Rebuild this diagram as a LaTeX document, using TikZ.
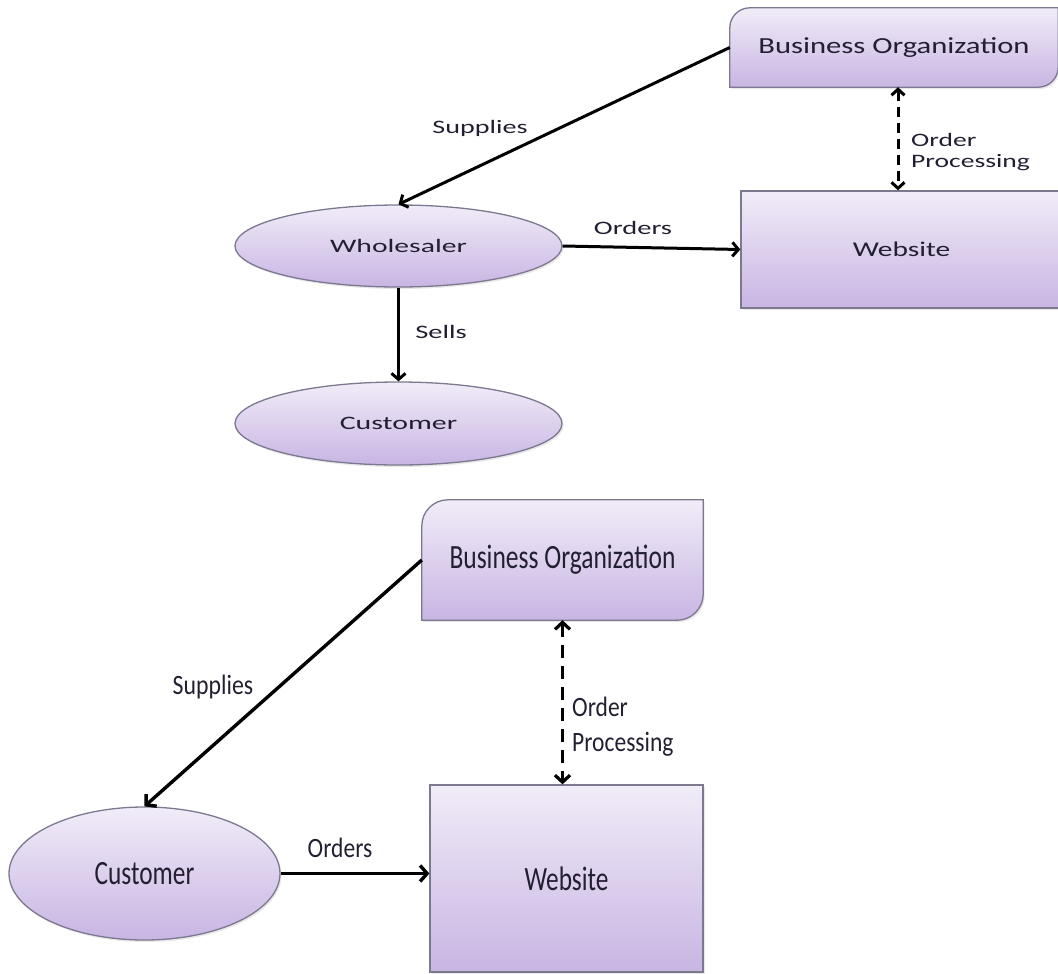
\documentclass[tikz,border=0pt]{standalone}
\usepackage{fontspec}
\setmainfont{Carlito}
\usetikzlibrary{shapes.geometric,arrows.meta,calc,backgrounds,shadows}
\definecolor{ftop}{HTML}{F1ECF8}
\definecolor{fbot}{HTML}{C8B5E3}
\definecolor{edgec}{HTML}{7C7890}
\definecolor{txt}{HTML}{231F33}
\newcommand\T[3]{\scalebox{#2}[1]{\fontsize{#1}{#1}\selectfont #3}}
\newcommand\TT[5]{\scalebox{#2}[1]{\fontsize{#1}{#3}\selectfont\begin{tabular}{@{}l@{}}#4\\#5\end{tabular}}}
\newcommand\boshape[2]{%
  \path[top color=ftop,bottom color=fbot,draw=edgec,line width=1.3pt,
        drop shadow={opacity=0.18,shadow xshift=1.5pt,shadow yshift=-2pt}]
    (#1.south west) -- ($(#1.north west)+(0,#2)$)
    .. controls ($(#1.north west)+(0,0.45*#2)$) and ($(#1.north west)+(0.45*#2,0)$) .. ($(#1.north west)+(#2,0)$)
    -- (#1.north east) -- ($(#1.south east)+(0,-#2)$)
    .. controls ($(#1.south east)+(0,-0.45*#2)$) and ($(#1.south east)+(-0.45*#2,0)$) .. ($(#1.south east)+(-#2,0)$) -- cycle;}
\begin{document}
\begin{tikzpicture}[x=1pt,y=-1pt,
  shd/.style={drop shadow={opacity=0.18,shadow xshift=1.5pt,shadow yshift=-2pt}},
  ell/.style={ellipse,draw=edgec,line width=1.3pt,top color=ftop,bottom color=fbot,inner sep=0pt,text=txt,shd},
  rect/.style={rectangle,draw=edgec,line width=1.3pt,top color=ftop,bottom color=fbot,inner sep=0pt,text=txt,shd},
  bobox/.style={rectangle,inner sep=0pt,text=txt},
  lbl/.style={inner sep=0pt,text=txt},
  arrA/.style={line width=3pt,-{Straight Barb[length=6pt,width=14pt]}},
  arrB/.style={line width=3.4pt,-{Straight Barb[length=7pt,width=16pt]}},
  dshA/.style={line width=3pt,dash pattern=on 10pt off 6pt,{Straight Barb[length=6pt,width=13pt]}-{Straight Barb[length=6pt,width=13pt]}},
  dshB/.style={line width=3.2pt,dash pattern=on 13pt off 8pt,{Straight Barb[length=7pt,width=15pt]}-{Straight Barb[length=7pt,width=15pt]}}]
\useasboundingbox (0,0) rectangle (1058,974);

% ---------- top diagram ----------
\node[bobox,minimum width=328pt,minimum height=79pt] (bo1) at (894,47.5) {\T{23}{1.33}{Business Organization}};
\node[rect,minimum width=321pt,minimum height=117pt] (web1) at (901.5,249.5) {\T{21}{1.4}{Website}};
\node[ell,minimum width=327pt,minimum height=82pt] (who) at (398.5,246) {\T{19}{1.56}{Wholesaler}};
\node[ell,minimum width=327pt,minimum height=83pt] (cust1) at (398.5,423.5) {\T{19}{1.57}{Customer}};

\draw[arrA] (bo1.west) -- (who.north);
\draw[arrA] (who.east) -- (web1.west);
\draw[arrA] (who.south) -- (cust1.north);
\draw[dshA] ([xshift=4pt]bo1.south) -- ([xshift=4pt]bo1.south |- web1.north);

\node[lbl] (lsup1) at (480,128) {\T{19}{1.48}{Supplies}};
\node[lbl] (lord1) at (633,228) {\T{19}{1.5}{Orders}};
\node[lbl] (lsel1) at (441,332) {\T{19}{1.5}{Sells}};
\node[lbl,anchor=west] (lop1) at (911,153) {\TT{19}{1.45}{20}{Order}{Processing}};

% ---------- bottom diagram ----------
\node[bobox,minimum width=281pt,minimum height=120pt] (bo2) at (562.5,560) {\T{34}{0.75}{Business Organization}};
\node[rect,minimum width=273pt,minimum height=187pt] (web2) at (566.5,878.5) {\T{34}{0.745}{Website}};
\node[ell,minimum width=271pt,minimum height=133pt] (cust2) at (144.5,873.5) {\T{34}{0.745}{Customer}};

\draw[arrB] (bo2.west) -- (cust2.north);
\draw[arrB] (cust2.east) -- (cust2.east -| web2.west);
\draw[dshB] (bo2.south) -- (bo2.south |- web2.north);

\node[lbl] (lsup2) at (213,687) {\T{28}{0.85}{Supplies}};
\node[lbl] (lord2) at (340,848) {\T{28}{0.84}{Orders}};
\node[lbl,anchor=west] (lop2) at (572,727) {\TT{28}{0.84}{35}{Order}{Processing}};

\begin{scope}[on background layer]
\boshape{bo1}{20}
\boshape{bo2}{26}
\end{scope}
\end{tikzpicture}
\end{document}
